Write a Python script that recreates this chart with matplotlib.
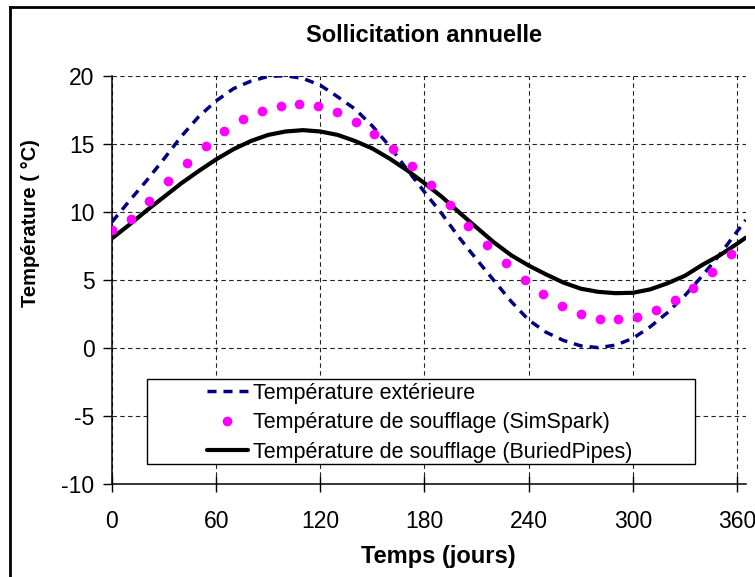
import numpy as np
import matplotlib
matplotlib.use("Agg")
import matplotlib.pyplot as plt
from matplotlib.lines import Line2D
from matplotlib.patches import Rectangle

plt.rcParams['font.family'] = ['Liberation Sans', 'DejaVu Sans']
plt.rcParams['axes.unicode_minus'] = False

# ---- donnees ----
# temperature exterieure (courbe en tirets)
jours_ext = [0, 10, 20, 30, 40, 50, 60, 70, 80, 90, 100, 110, 120, 130, 140, 150, 160, 170,
             180, 190, 200, 210, 220, 230, 240, 250, 260, 270, 280, 290, 300, 310, 320, 330,
             340, 350, 360, 365]
t_ext = [9.25, 10.8, 12.3, 13.9, 15.55, 17.0, 18.15, 19.05, 19.6, 19.95, 20.0, 19.8, 19.3,
         18.45, 17.55, 16.3, 14.8, 13.1, 11.45, 9.85, 8.1, 6.5, 4.95, 3.4, 2.05, 1.15, 0.55,
         0.15, 0.02, 0.2, 0.7, 1.55, 2.6, 3.85, 5.3, 6.85, 8.55, 9.4]

# temperature de soufflage SimSpark (points)
jours_sim = [0, 10.8, 21.6, 32.4, 43.2, 54.0, 64.8, 75.6, 86.4, 97.2, 108.0, 118.8, 129.6,
             140.4, 151.2, 162.0, 172.8, 183.6, 194.4, 205.2, 216.0, 226.8, 237.6, 248.4,
             259.2, 270.0, 280.8, 291.6, 302.4, 313.2, 324.0, 334.8, 345.6, 356.4]
t_sim = [8.66, 9.45, 10.82, 12.27, 13.6, 14.87, 15.95, 16.83, 17.44, 17.8, 17.93, 17.76,
         17.32, 16.63, 15.72, 14.6, 13.37, 11.95, 10.48, 8.98, 7.56, 6.21, 4.98, 3.93, 3.07,
         2.48, 2.14, 2.09, 2.28, 2.77, 3.49, 4.41, 5.57, 6.9]

# temperature de soufflage BuriedPipes (trait plein)
jours_bp = [0, 10, 20, 30, 40, 50, 60, 70, 80, 90, 100, 110, 120, 130, 140, 150, 160, 170,
            180, 190, 200, 210, 220, 230, 240, 250, 260, 270, 280, 290, 300, 310, 320, 330,
            340, 350, 360, 365]
t_bp = [8.05, 9.05, 10.1, 11.1, 12.1, 13.0, 13.85, 14.6, 15.2, 15.65, 15.9, 16.0, 15.9,
        15.65, 15.2, 14.65, 13.9, 13.05, 12.1, 11.1, 9.95, 8.85, 7.75, 6.8, 6.05, 5.4, 4.8,
        4.35, 4.12, 4.02, 4.05, 4.3, 4.75, 5.3, 6.1, 6.8, 7.65, 8.1]

xticks = [0, 60, 120, 180, 240, 300, 360]
yticks = [-10, -5, 0, 5, 10, 15, 20]

fig = plt.figure(figsize=(7.55, 5.77), dpi=100)
ax = fig.add_axes([0.1483, 0.1612, 0.8394, 0.7076])

ax.plot(jours_ext, t_ext, color='#000080', lw=2.5, dashes=(2.6, 2.0),
        label='Température extérieure', zorder=3)
ax.plot(jours_sim, t_sim, 'o', color='#ff00ff', ms=7, mec='none',
        label='Température de soufflage (SimSpark)', zorder=5)
ax.plot(jours_bp, t_bp, color='black', lw=3.0, solid_capstyle='round',
        label='Température de soufflage (BuriedPipes)', zorder=4)

ax.set_xlim(0, 365)
ax.set_ylim(-10, 20)
ax.set_xticks(xticks)
ax.set_yticks(yticks)
ax.grid(True, color='#222222', lw=0.8, ls=(0, (4, 3)))
ax.set_axisbelow(True)

for s in ['top', 'right']:
    ax.spines[s].set_visible(False)
for s in ['left', 'bottom']:
    ax.spines[s].set_linewidth(1.1)

ax.tick_params(axis='x', direction='inout', length=12, width=1, labelsize=16.5, pad=13)
ax.tick_params(axis='y', direction='out', length=6.5, width=1, labelsize=16.5, pad=6)

# cadre de la legende
ax.add_patch(Rectangle((0.0548, 0.0482), 0.865, 0.208, transform=ax.transAxes,
                       facecolor='white', edgecolor='black', lw=1.0, zorder=6))
leg = ax.legend(loc='center left', bbox_to_anchor=(0.150, 0.150), frameon=False,
                fontsize=15.5, borderpad=0, labelspacing=0.4, handlelength=1.9,
                handletextpad=0.25, numpoints=1, borderaxespad=0)
leg.set_zorder(7)

fig.text(424 / 755, 1 - 35 / 577, 'Sollicitation annuelle', ha='center', va='center',
         fontsize=17, fontweight='bold')
fig.text(438 / 755, 1 - 556 / 577, 'Temps (jours)', ha='center', va='center',
         fontsize=17, fontweight='bold')
fig.text(31 / 755, 1 - 223 / 577, 'Température ( °C)', ha='center', va='center',
         rotation=90, fontsize=14.5, fontweight='bold')

# cadre noir autour du graphique
fig.add_artist(Line2D([10 / 755, 10 / 755], [0, 1 - 6.5 / 577], color='black', lw=2,
                      transform=fig.transFigure))
fig.add_artist(Line2D([10 / 755, 1], [1 - 6.5 / 577, 1 - 6.5 / 577], color='black', lw=2,
                      transform=fig.transFigure))

fig.savefig('out.png', dpi=100)
